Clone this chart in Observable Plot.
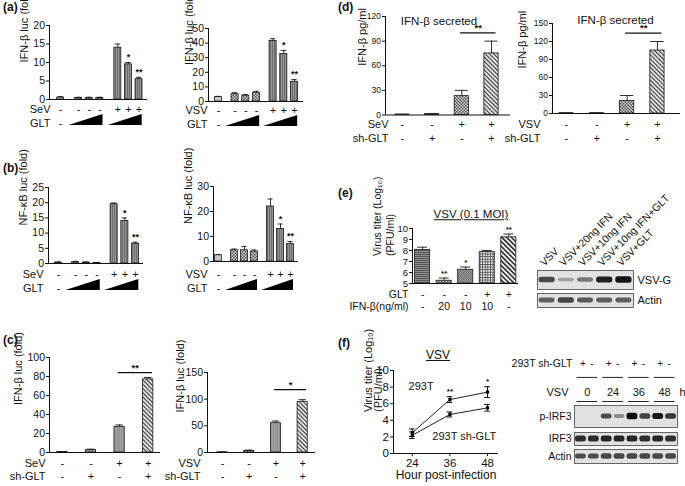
<!DOCTYPE html>
<html><head><meta charset="utf-8">
<script src="https://cdn.jsdelivr.net/npm/d3@7"></script>
<script src="https://cdn.jsdelivr.net/npm/@observablehq/plot@0.6"></script>
<style>
html,body{margin:0;padding:0;background:#fff;}
#fig{position:relative;width:685px;height:486px;overflow:hidden;font-family:"Liberation Sans",Arial,Helvetica,sans-serif;color:#111;}
#fig svg{position:absolute;}
.tag{position:absolute;font-weight:bold;font-size:12px;line-height:1;}
.ttl{position:absolute;font-size:12px;line-height:1;transform:translate(-50%,-50%);white-space:nowrap;text-decoration:underline;}
</style></head>
<body>
<svg width="0" height="0" style="position:absolute"><defs>
<pattern id="pLight" width="4" height="4" patternUnits="userSpaceOnUse"><rect width="4" height="4" fill="#c6c6c6"/></pattern>
<pattern id="pCheck" width="3" height="3" patternUnits="userSpaceOnUse"><rect width="3" height="3" fill="#dadada"/><rect width="1.5" height="1.5" fill="#4a4a4a"/><rect x="1.5" y="1.5" width="1.5" height="1.5" fill="#4a4a4a"/></pattern>
<pattern id="pCheck2" width="2.4" height="2.4" patternUnits="userSpaceOnUse"><rect width="2.4" height="2.4" fill="#cfcfcf"/><rect width="1.2" height="1.2" fill="#3a3a3a"/><rect x="1.2" y="1.2" width="1.2" height="1.2" fill="#3a3a3a"/></pattern>
<pattern id="pDark" width="2" height="2" patternUnits="userSpaceOnUse"><rect width="2" height="2" fill="#949494"/><rect width="0.8" height="2" fill="#646464"/></pattern>
<pattern id="pSolid" width="2" height="2" patternUnits="userSpaceOnUse"><rect width="2" height="2" fill="#a2a2a2"/><rect width="0.6" height="2" fill="#858585"/></pattern>
<pattern id="pDiag" width="3" height="3" patternUnits="userSpaceOnUse" patternTransform="rotate(-45)"><rect width="3" height="3" fill="#e6e6e6"/><rect width="1.1" height="3" fill="#3a3a3a"/></pattern>
<pattern id="pDiag2" width="3.4" height="3.4" patternUnits="userSpaceOnUse" patternTransform="rotate(-45)"><rect width="3.4" height="3.4" fill="#f2f2f2"/><rect width="1.5" height="3.4" fill="#222"/></pattern>
<pattern id="pHoriz" width="2" height="2" patternUnits="userSpaceOnUse"><rect width="2" height="2" fill="#8e8e8e"/><rect width="2" height="0.9" fill="#505050"/></pattern>
<pattern id="pGrid" width="2.6" height="2.6" patternUnits="userSpaceOnUse"><rect width="2.6" height="2.6" fill="#f0f0f0"/><rect width="2.6" height="0.9" fill="#555"/><rect width="0.9" height="2.6" fill="#555"/></pattern>
<filter id="blur" x="-20%" y="-60%" width="140%" height="220%"><feGaussianBlur stdDeviation="0.8"/></filter>
</defs></svg>
<div id="fig"></div>
<script>
// ================= DATA =================
// (a)/(b) shared design: 7 bars in 3 groups
const groups7 = [0,1,1,1,2,2,2];
const virus7  = ["-","-","-","-","+","+","+"];
const glt7    = [0,1,2,3,1,2,3];

// (a) IFN-β luc, SeV
const aSeV_val = [0.5,0.4,0.4,0.4,14,9.5,5.5];
const aSeV_err = [0.3,0.2,0.2,0.2,1.0,0.5,0.5];
const aSeV_sig = ["","","","","","*","**"];
const aSeV_ticks = [0,5,10,15,20];
// (a) IFN-β luc, VSV
const aVSV_val = [3,5,4,6,41.5,32.5,13.5];
const aVSV_err = [0.5,1,0.8,1,1.5,2.5,1.5];
const aVSV_sig = ["","","","","","*","**"];
const aVSV_ticks = [0,10,20,30,40,50];
// (b) NF-κB luc, SeV
const bSeV_val = [0.3,0.4,0.3,0.2,19.5,14,6.5];
const bSeV_err = [0.2,0.3,0.2,0.1,0.4,1,0.5];
const bSeV_sig = ["","","","","","*","**"];
const bSeV_ticks = [0,5,10,15,20,25];
// (b) NF-κB luc, VSV
const bVSV_val = [2.5,4.5,4.5,4,22,13,7];
const bVSV_err = [0.3,0.5,1.5,0.6,3,2,1];
const bVSV_sig = ["","","","","","*","**"];
const bVSV_ticks = [0,10,20,30];

// (c)/(d) shared design: 4 bars
const virus4 = ["-","-","+","+"];
const sh4    = ["-","+","-","+"];
const cSeV_val = [0.5,2.5,27,77];
const cSeV_err = [0.3,1,2,2];
const cSeV_bracket = {from:2, to:3, y:84, label:"**"};
const cSeV_ticks = [0,20,40,60,80,100];
const cVSV_val = [0.5,3,55,95];
const cVSV_err = [0.3,1.5,4,4];
const cVSV_bracket = {from:2, to:3, y:118, label:"*"};
const cVSV_ticks = [0,50,100,150];
const dSeV_val = [0.5,1,23,75];
const dSeV_err = [0.3,0.5,7,15];
const dSeV_bracket = {from:2, to:3, y:100, label:"**"};
const dSeV_ticks = [0,30,60,90,120];
const dVSV_val = [0.5,0.5,21,105];
const dVSV_err = [0.3,0.3,9,15];
const dVSV_bracket = {from:2, to:3, y:134, label:"**"};
const dVSV_ticks = [0,30,60,90,120,150];

// (e) virus titer
const eGLT = ["-","-","-","+","+"];
const eIFN = ["-","20","10","10","-"];
const eVal = [8.05,5.25,6.25,7.85,9.2];
const eErr = [0.25,0.25,0.25,0.15,0.3];
const eSig = ["","**","*","","**"];
const eTicks = [5,6,7,8,9,10];
// (e) blot
const eLanes = ["VSV","VSV+20ng IFN","VSV+10ng IFN","VSV+10ng IFN+GLT","VSV+GLT"];
const eVSVG  = [0.72,0.3,0.5,0.92,0.97];
const eActin = [0.62,0.72,0.64,0.62,0.62];

// (f) virus titer time course
const fHours = [24,36,48];
const f293T_val = [2.5,6.5,7.4];
const f293T_err = [0.45,0.35,0.65];
const fSh_val = [2.2,4.7,5.5];
const fSh_err = [0.4,0.3,0.4];
const fSig = ["","**","*"];
const fTicks = [0,2,4,6,8,10];
// (f) blot
const fShGLT = ["+","-","+","-","+","-","+","-"];
const fTimes = ["0","24","36","48"];
const fPIRF3 = [0,0,0.7,0.4,1,0.75,0.95,0.8];
const fIRF3  = [0.85,0.85,0.88,0.88,0.88,0.85,0.88,0.85];
const fActin = [0.7,0.7,0.72,0.72,0.72,0.72,0.72,0.72];

// ================= DRAWING =================
const FONT = '"Liberation Sans", Arial, Helvetica, sans-serif';
const fig = document.getElementById("fig");
const ML = 52, MR = 6;
const fmt = d => String(d);
const st = fs => ({fontFamily: FONT, fontSize: fs + "px", color: "#111", background: "none", overflow: "visible"});
function place(node, left, top) { node.style.left = left + "px"; node.style.top = top + "px"; fig.appendChild(node); }
function tag(txt, left, cy) { const d = document.createElement("div"); d.className = "tag"; d.textContent = txt; d.style.left = left + "px"; d.style.top = (cy - 6) + "px"; fig.appendChild(d); }
function ttl(txt, cx, cy, fs) { const d = document.createElement("div"); d.className = "ttl"; d.textContent = txt; d.style.left = cx + "px"; d.style.top = cy + "px"; d.style.fontSize = fs + "px"; fig.appendChild(d); }
const mkBars = (val, err, sig, pos) => val.map((v, i) => ({i, pos: pos[i], v, e: err[i], sig: sig ? sig[i] : ""}));
const groupPos = (groups, gap) => groups.map((g, i) => i + g * gap);

function barPanel(o) {
  const mT = 16, mB = 6;
  const width = o.rx - o.ax + ML + MR, height = o.by - o.ty + mT + mB;
  const y0 = o.yDomain[0];
  const marks = [];
  const pats = [...new Set(o.bars.map(o.pat))];
  for (const p of pats) {
    marks.push(Plot.rectY(o.bars.filter(b => o.pat(b) === p), {
      x1: b => b.pos - o.half, x2: b => b.pos + o.half, y1: y0, y2: "v",
      fill: `url(#${p})`, stroke: "#1a1a1a", strokeWidth: 0.8}));
  }
  const eb = o.bars.filter(b => b.e > 0);
  marks.push(Plot.ruleX(eb, {x: "pos", y1: "v", y2: b => b.v + b.e, stroke: "#1a1a1a", strokeWidth: 0.9}));
  marks.push(Plot.ruleY(eb, {y: b => b.v + b.e, x1: b => b.pos - o.cap, x2: b => b.pos + o.cap, stroke: "#1a1a1a", strokeWidth: 0.9}));
  marks.push(Plot.text(o.bars.filter(b => b.sig), {x: "pos", y: b => b.v + b.e, text: "sig", dy: -5, fontSize: o.starFont || 9, fontWeight: "bold"}));
  marks.push(Plot.ruleY([y0], {stroke: "#111", strokeWidth: 1}));
  marks.push(Plot.ruleX([o.xDomain[0]], {stroke: "#111", strokeWidth: 1}));
  marks.push(Plot.text([o.ylabel], {frameAnchor: "left", rotate: -90, dx: o.ylabelDx, fontSize: o.labelFont || 11, lineHeight: o.lineHeight || 1.15, text: d => d}));
  if (o.bracket) {
    const bk = o.bracket;
    marks.push(Plot.ruleY([bk], {y: "y", x1: d => o.bars[d.from].pos - 0.05, x2: d => o.bars[d.to].pos + 0.15, stroke: "#111", strokeWidth: 1.3}));
    marks.push(Plot.text([bk], {x: d => (o.bars[d.from].pos + o.bars[d.to].pos) / 2 + 0.05, y: "y", text: "label", dy: -5, fontSize: 9.5, fontWeight: "bold"}));
  }
  if (o.title) marks.push(Plot.text([o.title], {frameAnchor: "top", dx: o.titleDx || 0, dy: o.titleDy || 0, text: d => d, fontSize: 11.5}));
  const svg = Plot.plot({width, height, marginLeft: ML, marginRight: MR, marginTop: mT, marginBottom: mB,
    x: {domain: o.xDomain, axis: null},
    y: {domain: o.yDomain, ticks: o.yTicks, tickFormat: fmt, tickSize: 3, tickPadding: 1.5, label: null},
    style: st(o.tickFont || 10.5), marks});
  place(svg, o.ax - ML, o.ty - mT);
}

function rowStrip(o, rows) {
  const n = rows.length;
  const width = o.rx - o.ax + ML + MR, height = n * o.rowH;
  const cells = [], wedge = [];
  rows.forEach((r, ri) => {
    if (r.syms) r.syms.forEach((s, i) => cells.push({x: o.pos[i], r: ri, s}));
    if (r.dose) {
      r.dose.forEach((d, i) => { if (d === 0) cells.push({x: o.pos[i], r: ri, s: "-"}); });
      const gs = d3.groups(r.dose.map((d, i) => ({d, i, g: o.groups[i]})).filter(e => e.d > 0), e => e.g);
      for (const [g, es] of gs) {
        const a = o.pos[es[0].i] - 0.9, b = o.pos[es[es.length - 1].i] + 0.3;
        wedge.push({x: a, y1: ri + 0.15, y2: ri + 0.15, w: g}, {x: b, y1: ri + 0.15, y2: ri - 0.65, w: g});
      }
    }
  });
  const svg = Plot.plot({width, height, marginLeft: ML, marginRight: MR, marginTop: 0, marginBottom: 0,
    x: {domain: o.xDomain, axis: null}, y: {domain: [n - 0.5, -0.5], axis: null},
    style: st(o.font || 11),
    marks: [
      Plot.text(cells, {x: "x", y: "r", text: "s", fontSize: o.font || 11}),
      Plot.areaY(wedge, {x: "x", y1: "y1", y2: "y2", z: "w", fill: "#000"}),
      Plot.text(rows, {x: o.xDomain[0], y: (d, i) => i, text: "label", textAnchor: "end", dx: o.labelDx, fontSize: o.font || 11})
    ]});
  place(svg, o.ax - ML, o.rowY0 - o.rowH / 2);
}

function blot(o) {
  const mL = o.side === "left" ? 70 : 2, mR = o.side === "right" ? 50 : 2;
  const n = o.vals.length;
  const bands = o.vals.map((v, i) => ({i, v, t: (1.2 + 2.0 * v) / o.h})).filter(d => d.v > 0);
  const marks = [
    Plot.frame({fill: "#e1e1e1", stroke: "#444", strokeWidth: 0.8}),
    Plot.rect(bands, {x1: d => d.i - 0.42, x2: d => d.i + 0.42, y1: d => 0.5 - d.t, y2: d => 0.5 + d.t,
      fill: "#0d0d0d", fillOpacity: "v", rx: 2.5, ariaLabel: "band"}),
    Plot.text([o.label], {frameAnchor: o.side, dx: o.side === "right" ? 4 : -3, textAnchor: o.side === "right" ? "start" : "end", fontSize: o.font || 10.5, text: d => d})
  ];
  if (o.lanes) marks.push(Plot.text(o.lanes, {x: (d, i) => i, frameAnchor: "top", rotate: -45, textAnchor: "start", dx: -8, dy: -9, fontSize: 10.5, text: d => d}));
  const svg = Plot.plot({width: o.w + mL + mR, height: o.h + 2, marginLeft: mL, marginRight: mR, marginTop: 1, marginBottom: 1,
    x: {domain: [-0.5, n - 0.5], axis: null}, y: {domain: [0, 1], axis: null}, opacity: {type: "identity"},
    style: st(10.5), marks});
  const g = svg.querySelector('g[aria-label="band"]');
  if (g) g.setAttribute("filter", "url(#blur)");
  place(svg, o.x - mL, o.y - 1);
}

// ---------- panel tags ----------
tag("(a)", 3, 7); tag("(b)", 3, 168); tag("(c)", 3, 340);
tag("(d)", 338, 7); tag("(e)", 338, 193); tag("(f)", 338, 343);

// ---------- (a) ----------
const patAB = b => virus7[b.i] === "+" ? "pDark" : (glt7[b.i] > 0 ? "pCheck" : "pLight");
{
  const pos = groupPos(groups7, 0.7), xDomain = [-1.05, 8.2];
  barPanel({ax: 49, rx: 147, ty: 25, by: 99, xDomain, yDomain: [0, 20], yTicks: aSeV_ticks,
    bars: mkBars(aSeV_val, aSeV_err, aSeV_sig, pos), pat: patAB, half: 0.33, cap: 0.25,
    ylabel: "IFN-β luc (fold)", ylabelDx: -26});
  rowStrip({ax: 49, rx: 147, xDomain, pos, groups: groups7, rowY0: 109, rowH: 14, labelDx: 1},
    [{label: "SeV", syms: virus7}, {label: "GLT", dose: glt7}]);
}
{
  const pos = groupPos(groups7, 0.55), xDomain = [-0.93, 7.94];
  barPanel({ax: 208, rx: 303, ty: 28, by: 101, xDomain, yDomain: [0, 50], yTicks: aVSV_ticks,
    bars: mkBars(aVSV_val, aVSV_err, aVSV_sig, pos), pat: patAB, half: 0.33, cap: 0.25,
    ylabel: "IFN-β luc (fold)", ylabelDx: -20});
  rowStrip({ax: 208, rx: 303, xDomain, pos, groups: groups7, rowY0: 110, rowH: 14, labelDx: -1},
    [{label: "VSV", syms: virus7}, {label: "GLT", dose: glt7}]);
}
// ---------- (b) ----------
{
  const pos = groupPos(groups7, 0.6), xDomain = [-0.93, 7.94];
  barPanel({ax: 48, rx: 143, ty: 187, by: 263, xDomain, yDomain: [0, 25], yTicks: bSeV_ticks,
    bars: mkBars(bSeV_val, bSeV_err, bSeV_sig, pos), pat: patAB, half: 0.33, cap: 0.25,
    ylabel: "NF-κB luc (fold)", ylabelDx: -26});
  rowStrip({ax: 48, rx: 143, xDomain, pos, groups: groups7, rowY0: 274, rowH: 14, labelDx: -5},
    [{label: "SeV", syms: virus7}, {label: "GLT", dose: glt7}]);
}
{
  const pos = groupPos(groups7, 0.6), xDomain = [-0.5, 8.0];
  barPanel({ax: 213, rx: 298, ty: 186, by: 261, xDomain, yDomain: [0, 30], yTicks: bVSV_ticks,
    bars: mkBars(bVSV_val, bVSV_err, bVSV_sig, pos), pat: patAB, half: 0.35, cap: 0.25,
    ylabel: "NF-κB luc (fold)", ylabelDx: -26});
  rowStrip({ax: 213, rx: 298, xDomain, pos, groups: groups7, rowY0: 274, rowH: 14, labelDx: -6},
    [{label: "VSV", syms: virus7}, {label: "GLT", dose: glt7}]);
}
// ---------- (c) ----------
const patC = b => virus4[b.i] === "+" ? (sh4[b.i] === "+" ? "pDiag" : "pSolid") : (sh4[b.i] === "+" ? "pCheck" : "pLight");
const patD = b => virus4[b.i] === "+" ? (sh4[b.i] === "+" ? "pDiag" : "pCheck") : (sh4[b.i] === "+" ? "pCheck" : "pLight");
const idx4 = [0, 1, 2, 3];
{
  const xDomain = [-0.45, 3.43];
  barPanel({ax: 49, rx: 160, ty: 357, by: 452, xDomain, yDomain: [0, 100], yTicks: cSeV_ticks,
    bars: mkBars(cSeV_val, cSeV_err, null, idx4), pat: patC, half: 0.18, cap: 0.13,
    ylabel: "IFN-β luc (fold)", ylabelDx: -32, bracket: cSeV_bracket});
  rowStrip({ax: 49, rx: 160, xDomain, pos: idx4, rowY0: 462, rowH: 13, labelDx: -4},
    [{label: "SeV", syms: virus4}, {label: "sh-GLT", syms: sh4}]);
}
{
  const xDomain = [-0.56, 3.48];
  barPanel({ax: 207, rx: 315, ty: 372, by: 452, xDomain, yDomain: [0, 150], yTicks: cVSV_ticks,
    bars: mkBars(cVSV_val, cVSV_err, null, idx4), pat: patC, half: 0.19, cap: 0.14,
    ylabel: "IFN-β luc (fold)", ylabelDx: -28, bracket: cVSV_bracket});
  rowStrip({ax: 207, rx: 315, xDomain, pos: idx4, rowY0: 462, rowH: 13, labelDx: -7},
    [{label: "VSV", syms: virus4}, {label: "sh-GLT", syms: sh4}]);
}
// ---------- (d) ----------
{
  const xDomain = [-0.57, 3.64];
  barPanel({ax: 385, rx: 510, ty: 16, by: 114.5, xDomain, yDomain: [0, 120], yTicks: dSeV_ticks,
    bars: mkBars(dSeV_val, dSeV_err, null, idx4), pat: patD, half: 0.24, cap: 0.22, tickFont: 8.5,
    ylabel: "IFN-β pg/ml", ylabelDx: -24, bracket: dSeV_bracket, title: "IFN-β secreted", titleDx: -9});
  rowStrip({ax: 385, rx: 510, xDomain, pos: idx4, rowY0: 124, rowH: 14, labelDx: 3},
    [{label: "SeV", syms: virus4}, {label: "sh-GLT", syms: sh4}]);
}
{
  const xDomain = [-0.46, 3.76];
  barPanel({ax: 552, rx: 680, ty: 23.3, by: 113.3, xDomain, yDomain: [0, 150], yTicks: dVSV_ticks,
    bars: mkBars(dVSV_val, dVSV_err, null, idx4), pat: patD, half: 0.235, cap: 0.22, tickFont: 8.5,
    ylabel: "IFN-β pg/ml", ylabelDx: -31, bracket: dVSV_bracket, title: "IFN-β secreted", titleDx: -1, titleDy: -8});
  rowStrip({ax: 552, rx: 680, xDomain, pos: idx4, rowY0: 124, rowH: 14, labelDx: -12},
    [{label: "VSV", syms: virus4}, {label: "sh-GLT", syms: sh4}]);
}
// ---------- (e) ----------
{
  const ePats = ["pHoriz", "pCheck", "pCheck2", "pGrid", "pDiag2"];
  const pos = [0, 1, 2, 3, 4], xDomain = [-0.47, 4.45];
  barPanel({ax: 412, rx: 518, ty: 228, by: 283, xDomain, yDomain: [5, 10], yTicks: eTicks,
    bars: mkBars(eVal, eErr, eSig, pos), pat: b => ePats[b.i], half: 0.35, cap: 0.23, tickFont: 9.5,
    ylabel: "Virus titer (Log₁₀)\n(PFU/ml)", ylabelDx: -29, labelFont: 10.5, lineHeight: 1.2, starFont: 8});
  rowStrip({ax: 412, rx: 518, xDomain, pos, rowY0: 294, rowH: 12, labelDx: -4, font: 10.5},
    [{label: "GLT", syms: eGLT}, {label: "IFN-β(ng/ml)", syms: eIFN}]);
  ttl("VSV (0.1 MOI)", 471, 215, 11.5);
  blot({x: 537, y: 270, w: 96, h: 19, vals: eVSVG, label: "VSV-G", side: "right", lanes: eLanes, font: 11});
  blot({x: 537, y: 293, w: 96, h: 14, vals: eActin, label: "Actin", side: "right", font: 11});
}
// ---------- (f) ----------
{
  const ax = 393, rx = 498, ty = 370, by = 453, mT = 16, mB = 34;
  const xDomain = [18, 51.5];
  const pts = [
    ...fHours.map((h, i) => ({h, v: f293T_val[i], e: f293T_err[i], s: "293T", sig: fSig[i]})),
    ...fHours.map((h, i) => ({h, v: fSh_val[i], e: fSh_err[i], s: "sh", sig: ""}))
  ];
  const svg = Plot.plot({width: rx - ax + ML + 8, height: by - ty + mT + mB, marginLeft: ML, marginRight: 8, marginTop: mT, marginBottom: mB,
    x: {domain: xDomain, ticks: fHours, tickFormat: fmt, tickSize: 3, tickPadding: 2, label: null},
    y: {domain: [0, 10], ticks: fTicks, tickFormat: fmt, tickSize: 3, tickPadding: 1.5, label: null},
    style: st(11.5),
    marks: [
      Plot.ruleY([0], {stroke: "#111"}),
      Plot.ruleX([xDomain[0]], {stroke: "#111"}),
      Plot.line(pts, {x: "h", y: "v", z: "s", stroke: "#222", strokeWidth: 1}),
      Plot.ruleX(pts, {x: "h", y1: d => d.v - d.e, y2: d => d.v + d.e, stroke: "#111", strokeWidth: 1}),
      Plot.ruleY(pts, {y: d => d.v + d.e, x1: d => d.h - 0.9, x2: d => d.h + 0.9, stroke: "#111", strokeWidth: 1}),
      Plot.ruleY(pts, {y: d => d.v - d.e, x1: d => d.h - 0.9, x2: d => d.h + 0.9, stroke: "#111", strokeWidth: 1}),
      Plot.dot(pts, {x: "h", y: "v", symbol: "square", r: 1.8, fill: "#000"}),
      Plot.text(pts.filter(d => d.sig), {x: "h", y: d => d.v + d.e, text: "sig", dy: -5, fontSize: 8, fontWeight: "bold"}),
      Plot.text(["293T"], {x: 22.8, y: 8.07, textAnchor: "start", fontSize: 11, text: d => d}),
      Plot.text(["293T sh-GLT"], {x: 30.4, y: 2.05, textAnchor: "start", fontSize: 11, text: d => d}),
      Plot.text(["Virus titer (Log₁₀)\n(PFU/ml)"], {frameAnchor: "left", rotate: -90, dx: -20, fontSize: 11, lineHeight: 0.95, text: d => d}),
      Plot.text(["Hour post-infection"], {frameAnchor: "bottom", dy: 25, fontSize: 12, text: d => d})
    ]});
  place(svg, ax - ML, ty - mT);
  ttl("VSV", 438, 355, 12);

  // blot header
  const pairs = [0, 1, 2, 3];
  const hdr = Plot.plot({width: 103 + 95 + 14, height: 60, marginLeft: 95, marginRight: 14, marginTop: 13, marginBottom: 18,
    x: {domain: [-0.5, 7.5], axis: null}, y: {domain: [1, 0], axis: null}, style: st(10.5),
    marks: [
      Plot.text(fShGLT, {x: (d, i) => Math.floor(i / 2) * 2 + 0.5 + (i % 2 ? 0.35 : -0.35), y: 0, text: d => d, fontSize: 10}),
      Plot.ruleY(pairs, {y: 0.48, x1: p => 2 * p - 0.3, x2: p => 2 * p + 1.3, stroke: "#222"}),
      Plot.text(fTimes, {x: (d, i) => 2 * i + 0.5, y: 1, text: d => d, fontSize: 11}),
      Plot.ruleY(pairs, {y: 1.31, x1: p => 2 * p - 0.3, x2: p => 2 * p + 1.3, stroke: "#222"}),
      Plot.text(["293T sh-GLT"], {x: -0.5, y: 0, textAnchor: "end", dx: -2, fontSize: 10.5, text: d => d}),
      Plot.text(["VSV"], {x: -0.5, y: 1, textAnchor: "end", dx: -6, fontSize: 11, text: d => d}),
      Plot.text(["h"], {x: 7.5, y: 1, textAnchor: "start", dx: 2, fontSize: 11, text: d => d})
    ]});
  place(hdr, 574 - 95, 350);
  blot({x: 574, y: 405, w: 103, h: 22, vals: fPIRF3, label: "p-IRF3", side: "left"});
  blot({x: 574, y: 432, w: 103, h: 13, vals: fIRF3, label: "IRF3", side: "left"});
  blot({x: 574, y: 449, w: 103, h: 14, vals: fActin, label: "Actin", side: "left"});
}
</script>
</body></html>
